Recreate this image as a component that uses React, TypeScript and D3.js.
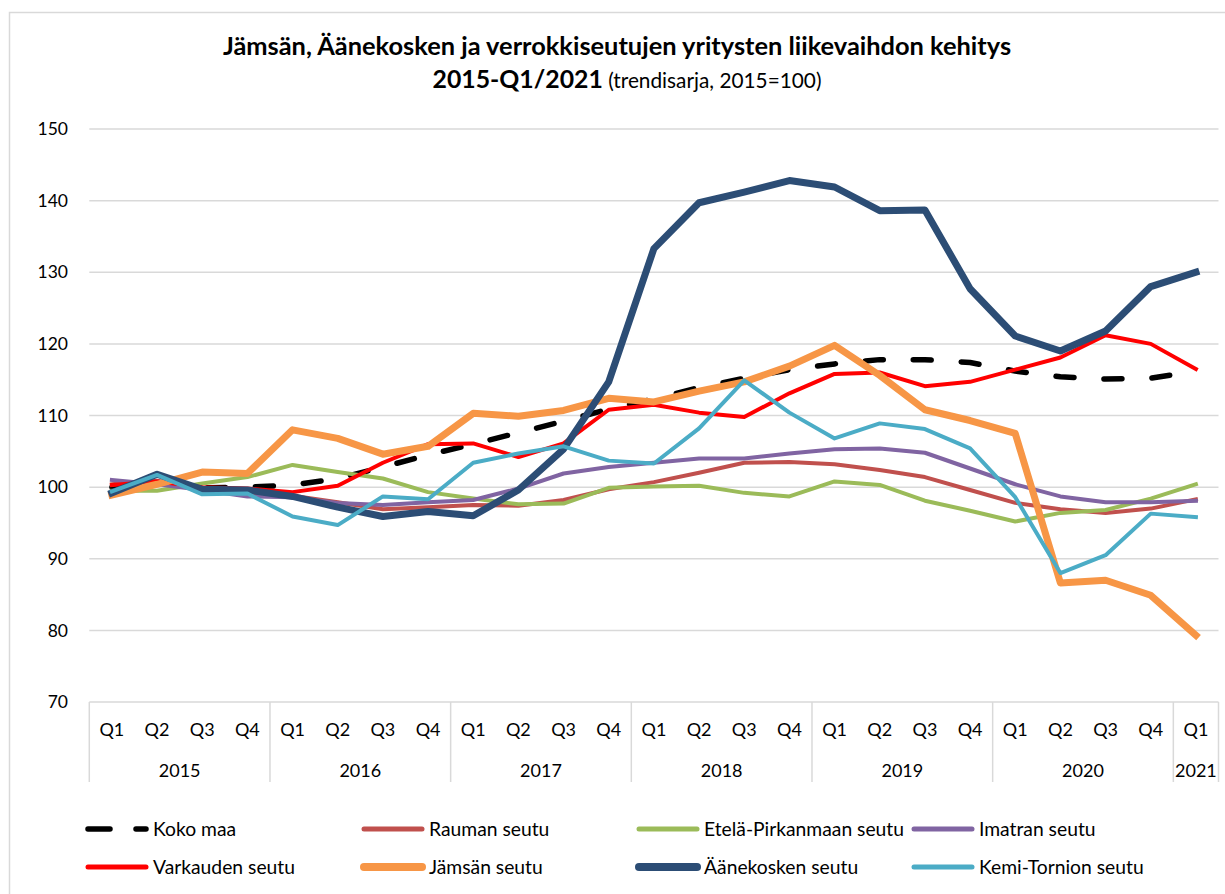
import React from "react";
import * as d3 from "d3";

const quarters = ["Q1","Q2","Q3","Q4","Q1","Q2","Q3","Q4","Q1","Q2","Q3","Q4","Q1","Q2","Q3","Q4","Q1","Q2","Q3","Q4","Q1","Q2","Q3","Q4","Q1"];
const years = ["2015","2016","2017","2018","2019","2020","2021"];
const yearSpans = [4,4,4,4,4,4,1];
const yTicks = [70,80,90,100,110,120,130,140,150];

const kokoMaa = [100.0,100.6,99.9,100.0,100.3,101.2,102.8,104.5,106.0,107.6,109.2,110.9,112.3,113.9,115.2,116.4,117.2,117.8,117.8,117.4,116.2,115.4,115.1,115.2,116.2];
const rauma = [100.4,100.9,99.7,99.0,98.8,97.9,96.9,97.2,97.5,97.4,98.2,99.7,100.7,102.0,103.4,103.5,103.2,102.4,101.4,99.6,97.8,96.9,96.4,97.0,98.3];
const etelaPirkanmaa = [99.5,99.5,100.5,101.4,103.1,102.1,101.2,99.3,98.4,97.6,97.7,99.9,100.1,100.2,99.2,98.7,100.8,100.3,98.1,96.7,95.2,96.4,96.8,98.4,100.4];
const imatra = [101.0,100.4,99.6,98.7,98.6,97.8,97.5,97.9,98.2,99.8,101.9,102.8,103.4,104.0,104.0,104.7,105.3,105.4,104.8,102.6,100.4,98.7,97.9,97.9,98.1];
const varkaus = [100.3,100.8,100.0,99.8,99.3,100.2,103.4,106.0,106.1,104.2,106.1,110.8,111.5,110.4,109.8,113.1,115.8,116.0,114.1,114.7,116.4,118.1,121.2,120.0,116.5];
const jamsa = [98.9,100.4,102.1,101.9,108.0,106.8,104.6,105.7,110.3,109.9,110.7,112.4,111.9,113.4,114.7,116.9,119.8,115.6,110.8,109.3,107.5,86.6,87.0,84.9,79.3];
const aanekoski = [99.2,101.8,99.7,99.6,98.7,97.2,95.9,96.6,96.0,99.6,105.3,114.7,133.3,139.7,141.2,142.8,141.9,138.6,138.7,127.7,121.1,119.0,121.8,128.0,130.0];
const kemiTornio = [99.4,101.7,99.0,99.1,95.9,94.7,98.7,98.3,103.4,104.7,105.7,103.7,103.3,108.2,114.9,110.4,106.8,108.9,108.1,105.4,98.6,88.0,90.5,96.3,95.8];

const seriesNames = ["Koko maa","Rauman seutu","Etelä-Pirkanmaan seutu","Imatran seutu","Varkauden seutu","Jämsän seutu","Äänekosken seutu","Kemi-Tornion seutu"];
const seriesValues = [kokoMaa, rauma, etelaPirkanmaa, imatra, varkaus, jamsa, aanekoski, kemiTornio];
const seriesColors = ["#000000","#C0504D","#9BBB59","#8064A2","#FF0000","#F79646","#2C4D75","#4BACC6"];
const seriesWidths = [5.5,4,4,4,4,7,7,4];
const seriesDash = ["18 30",null,null,null,null,null,null,null];

const FONT = "Lato, 'Open Sans', sans-serif";

export default function App() {
  const W = 1225, H = 894;
  const x = d3.scaleBand<number>().domain(d3.range(quarters.length)).range([89.3, 1218.5]).padding(0);
  const y = d3.scaleLinear().domain([70, 150]).range([702, 129]);
  const cx = (i: number) => (x(i) as number) + x.bandwidth() / 2;
  const line = d3.line<number>().x((_, i) => cx(i)).y(v => y(v));

  const yearBounds: number[] = [0];
  yearSpans.forEach(s => yearBounds.push(yearBounds[yearBounds.length - 1] + s));
  const bx = (k: number) => k < quarters.length ? (x(k) as number) : (x(quarters.length - 1) as number) + x.bandwidth();

  const legendCols = [85, 361, 636, 911];
  const legendRows = [829, 867];

  return (
    <svg width={W} height={H} style={{ position: "absolute", left: 0, top: 0, background: "#fff" }} fontFamily={FONT}>
      <rect x={9.5} y={12.5} width={1230} height={900} fill="#fff" stroke="#d9d9d9" strokeWidth={1.5} />
      <text x={617} y={55} textAnchor="middle" fontSize={25.4} fontWeight="bold" fill="#000">
        Jämsän, Äänekosken ja verrokkiseutujen yritysten liikevaihdon kehitys
      </text>
      <text x={627} y={88} textAnchor="middle" fill="#000">
        <tspan fontSize={24.8} fontWeight="bold">2015-Q1/2021</tspan>
        <tspan fontSize={20.8}> (trendisarja, 2015=100)</tspan>
      </text>
      {yTicks.map(t => (
        <g key={t}>
          <line x1={89.3} x2={1218.5} y1={y(t)} y2={y(t)} stroke="#d9d9d9" strokeWidth={1.5} />
          <text x={68} y={y(t)} dy="0.35em" textAnchor="end" fontSize={17.5} fill="#000">{t}</text>
        </g>
      ))}
      {yearBounds.map((k, j) => (
        <line key={"sep" + j} x1={bx(k)} x2={bx(k)} y1={702} y2={782} stroke="#d9d9d9" strokeWidth={1.5} />
      ))}
      {quarters.map((q, i) => (
        <text key={"q" + i} x={cx(i)} y={730} dy="0.35em" textAnchor="middle" fontSize={18} fill="#000">{q}</text>
      ))}
      {years.map((yr, j) => (
        <text key={"y" + j} x={(bx(yearBounds[j]) + bx(yearBounds[j + 1])) / 2} y={771} dy="0.35em" textAnchor="middle" fontSize={18} fill="#000">{yr}</text>
      ))}
      {seriesValues.map((vals, s) => (
        <path key={"s" + s} d={line(vals) || ""} fill="none" stroke={seriesColors[s]} strokeWidth={seriesWidths[s]}
          strokeDasharray={seriesDash[s] || undefined} strokeLinecap={s === 0 ? "round" : "square"} strokeLinejoin="round" />
      ))}
      {seriesNames.map((name, s) => {
        const lx = legendCols[s % 4];
        const ly = legendRows[Math.floor(s / 4)];
        return (
          <g key={"l" + s}>
            <line x1={lx + 3} x2={lx + 61} y1={ly} y2={ly} stroke={seriesColors[s]} strokeWidth={s === 0 ? 5.5 : seriesWidths[s] + 1}
              strokeLinecap="round" strokeDasharray={s === 0 ? "22 26" : undefined} />
            <text x={lx + 68} y={ly} dy="0.35em" fontSize={19.3} fill="#000">{name}</text>
          </g>
        );
      })}
    </svg>
  );
}
